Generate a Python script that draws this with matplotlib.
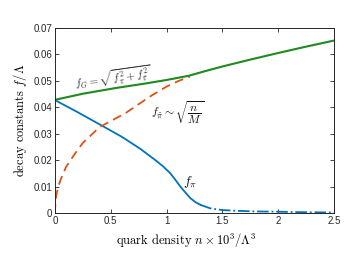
import matplotlib
matplotlib.use('Agg')
import matplotlib.pyplot as plt

plt.rcParams['mathtext.fontset'] = 'cm'

# green: f_G
n_G = [0, 0.25, 0.55, 0.8, 1.0, 1.2, 1.35, 1.5, 1.75, 2.0, 2.25, 2.5]
f_G = [0.0428, 0.0451, 0.0473, 0.0489, 0.0503, 0.0519, 0.0537, 0.0554, 0.0580, 0.0605, 0.0629, 0.0652]

# orange dashed: f_pi~
n_T = [0, 0.005, 0.015, 0.03, 0.05, 0.1, 0.18, 0.25, 0.4, 0.63, 0.85, 1.0, 1.1, 1.21]
f_T = [0, 0.0045, 0.0075, 0.0100, 0.0125, 0.0175, 0.0225, 0.0265, 0.0325, 0.0377, 0.0440, 0.0478, 0.0498, 0.0516]

# blue: f_pi (solid part, then dash-dot tail)
n_P = [0, 0.2, 0.435, 0.6, 0.764, 0.9, 0.97, 1.034, 1.08, 1.124, 1.17, 1.214, 1.26, 1.304]
f_P = [0.0427, 0.0382, 0.0327, 0.0288, 0.0243, 0.0200, 0.0176, 0.0150, 0.0125, 0.0100, 0.0077, 0.0056, 0.0041, 0.0031]
n_P_tail = [1.304, 1.39, 1.45, 1.51, 1.65, 1.8, 2.0, 2.25, 2.5]
f_P_tail = [0.0031, 0.0018, 0.0014, 0.0011, 0.0008, 0.0006, 0.0005, 0.0003, 0.0002]

xticks = [0, 0.5, 1, 1.5, 2, 2.5]
xticklabels = ['0', '0.5', '1', '1.5', '2', '2.5']
yticks = [0, 0.01, 0.02, 0.03, 0.04, 0.05, 0.06, 0.07]
yticklabels = ['0', '0.01', '0.02', '0.03', '0.04', '0.05', '0.06', '0.07']

fig = plt.figure(figsize=(3.5, 2.63), dpi=100)
ax = fig.add_axes([0.157, 0.19, 0.797, 0.704])

ax.plot(n_P, f_P, color='#0072BD', lw=1.3)
ax.plot(n_P_tail, f_P_tail, color='#0072BD', lw=1.3, linestyle='-.')
ax.plot(n_T, f_T, color='#D95319', lw=1.3, linestyle=(0, (5, 3)))
ax.plot(n_G, f_G, color='#1f8a1f', lw=1.5)

ax.set_xlim(0, 2.5)
ax.set_ylim(0, 0.07)
ax.set_xticks(xticks)
ax.set_xticklabels(xticklabels, fontfamily='Liberation Sans')
ax.set_yticks(yticks)
ax.set_yticklabels(yticklabels, fontfamily='Liberation Sans')
ax.tick_params(direction='in', top=True, right=True, length=3, width=0.6,
               labelsize=7, colors='#262626', pad=2)
for s in ax.spines.values():
    s.set_linewidth(0.7)
    s.set_color('#262626')

ax.set_xlabel(r'quark density $n\times10^3/\Lambda^3$', fontfamily='cmr10', fontsize=9, labelpad=3)
ax.xaxis.set_label_coords(0.47, -0.1)
ax.set_ylabel(r'decay constants $f/\Lambda$', fontfamily='cmr10', fontsize=9, labelpad=3)

ax.text(0.52, 0.0512, r'$f_G = \sqrt{f_\pi^2 + f_{\tilde\pi}^2}$', fontsize=8,
        rotation=8, ha='center', va='center', color='#333333')
ax.text(1.1, 0.0378, r'$f_{\tilde\pi} \sim \sqrt{\dfrac{n}{M}}$', fontsize=8.5,
        ha='center', va='center', color='#111111')
ax.text(1.21, 0.0117, r'$f_\pi$', fontsize=10, ha='center', va='center', color='#111111')

fig.savefig('out.png', dpi=100)
